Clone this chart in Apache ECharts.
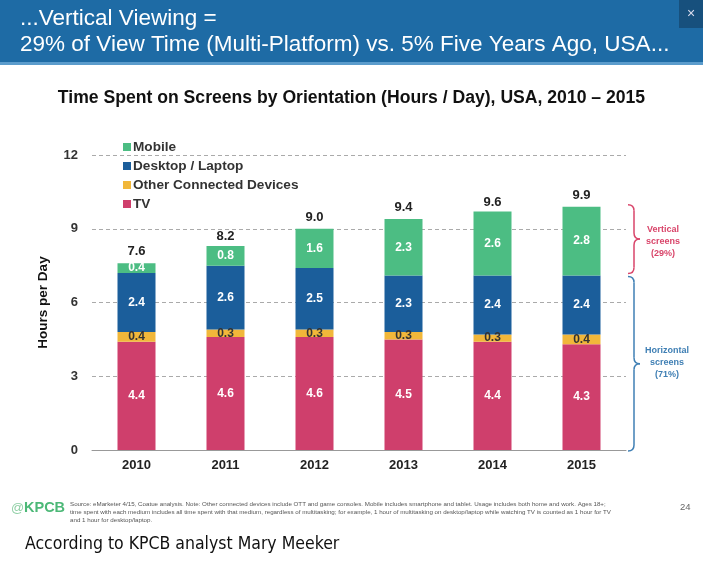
<!DOCTYPE html>
<html><head><meta charset="utf-8">
<script src="https://cdn.jsdelivr.net/npm/echarts@6/dist/echarts.min.js"></script>
<style>html,body{margin:0;padding:0;background:#fff}#c{width:703px;height:561px}</style>
</head><body><div id="c"></div>
<script>
var years = ['2010','2011','2012','2013','2014','2015'];
var tv = [4.4,4.6,4.6,4.5,4.4,4.3];
var other = [0.4,0.3,0.3,0.3,0.3,0.4];
var desktop = [2.4,2.6,2.5,2.3,2.4,2.4];
var mobile = [0.4,0.8,1.6,2.3,2.6,2.8];
var totals = [7.6,8.2,9.0,9.4,9.6,9.9];
var yTicks = [0,3,6,9,12];

var F = 'Liberation Sans, Arial, sans-serif';
var chart = echarts.init(document.getElementById('c'), null, {renderer:'canvas'});
function seg(name, data, color, labelColor){
  return {name:name, type:'bar', stack:'s', data:data, barWidth:38,
    itemStyle:{color:color},
    label:{show:true, position:'inside', color:labelColor, fontFamily:F, fontWeight:'bold', fontSize:12,
      formatter:function(p){return p.value.toFixed(1);}}};
}
var option = {
  animation:false,
  backgroundColor:'#fff',
  title:[{text:'Time Spent on Screens by Orientation (Hours / Day), USA, 2010 \u2013 2015', left:'center', top:84,
    textStyle:{fontFamily:F, fontWeight:'bold', fontSize:17.6, color:'#111'}}],
  legend:{orient:'vertical', left:118, top:135, itemWidth:8, itemHeight:8, itemGap:5, icon:'rect',
    data:['Mobile','Desktop / Laptop','Other Connected Devices','TV'],
    textStyle:{fontFamily:F, fontWeight:'bold', fontSize:13.6, color:'#333', padding:[0,0,0,-3]}},
  grid:{left:92, right:77, top:155, bottom:111},
  xAxis:{type:'category', data:years,
    axisLine:{lineStyle:{color:'#999'}}, axisTick:{show:false},
    axisLabel:{fontFamily:F, fontWeight:'bold', fontSize:13, color:'#222', margin:9}},
  yAxis:{type:'value', min:0, max:12, interval:3, name:'Hours per Day', nameLocation:'middle', nameGap:42,
    nameTextStyle:{fontFamily:F, fontWeight:'bold', fontSize:13.5, color:'#111'},
    axisLine:{show:false}, axisTick:{show:false},
    axisLabel:{fontFamily:F, fontWeight:'bold', fontSize:13, color:'#333', margin:14,
      formatter:function(v){return yTicks.indexOf(v)>=0?String(v):'';}},
    splitLine:{lineStyle:{color:'#aaa', type:[4,3], width:1}}},
  series:[
    seg('TV', tv, '#cf3f6c', '#fff'),
    seg('Other Connected Devices', other, '#f1b73a', '#333'),
    seg('Desktop / Laptop', desktop, '#1b5e9b', '#fff'),
    seg('Mobile', mobile, '#4cbd83', '#fff'),
    {name:'Total', type:'line', data:totals, symbol:'circle', symbolSize:2, lineStyle:{opacity:0},
      itemStyle:{color:'#fff', opacity:0}, silent:true, z:5,
      label:{show:true, position:'top', distance:4, color:'#222', opacity:1, fontFamily:F, fontWeight:'bold', fontSize:13,
        formatter:function(p){return p.value.toFixed(1);}}}
  ]
};
chart.setOption(option);

function brace(x, y1, y2, w, color){
  var ym = (y1+y2)/2;
  var st = {stroke:color, lineWidth:1.5, fill:null};
  return {type:'group', z:3, children:[
    {type:'bezierCurve', shape:{x1:x,y1:y1,x2:x+w,y2:y1+w,cpx1:x+w,cpy1:y1}, style:st},
    {type:'line', shape:{x1:x+w,y1:y1+w,x2:x+w,y2:ym-w}, style:st},
    {type:'bezierCurve', shape:{x1:x+w,y1:ym-w,x2:x+2*w,y2:ym,cpx1:x+w,cpy1:ym}, style:st},
    {type:'bezierCurve', shape:{x1:x+2*w,y1:ym,x2:x+w,y2:ym+w,cpx1:x+w,cpy1:ym}, style:st},
    {type:'line', shape:{x1:x+w,y1:ym+w,x2:x+w,y2:y2-w}, style:st},
    {type:'bezierCurve', shape:{x1:x+w,y1:y2-w,x2:x,y2:y2,cpx1:x+w,cpy1:y2}, style:st}
  ]};
}
var yTop = chart.convertToPixel({yAxisIndex:0}, totals[5]);
var yMid = chart.convertToPixel({yAxisIndex:0}, tv[5]+other[5]+desktop[5]);
var yBot = chart.convertToPixel({yAxisIndex:0}, 0);
var bx = 628;
var footnote = 'Source: eMarketer 4/15, Coatue analysis. Note: Other connected devices include OTT and game consoles. Mobile includes smartphone and tablet. Usage includes both home and work. Ages 18+;\ntime spent with each medium includes all time spent with that medium, regardless of multitasking; for example, 1 hour of multitasking on desktop/laptop while watching TV is counted as 1 hour for TV\nand 1 hour for desktop/laptop.';
chart.setOption({graphic:[
  {type:'rect', shape:{x:0,y:0,width:703,height:62}, style:{fill:'#1e6ba5'}, z:0},
  {type:'rect', shape:{x:0,y:62,width:703,height:3}, style:{fill:'#5b9ccc'}, z:0},
  {type:'rect', shape:{x:679,y:0,width:24,height:28}, style:{fill:'#17507d'}, z:1},
  {type:'text', x:691, y:14, style:{text:'\u00d7', fill:'#dde', fontSize:14, fontFamily:F, align:'center', verticalAlign:'middle'}, z:2},
  {type:'text', x:20, y:19, style:{text:'...Vertical Viewing =', fill:'#fff', fontSize:22.5, fontFamily:F, verticalAlign:'middle'}, z:2},
  {type:'text', x:20, y:45, style:{text:'29% of View Time (Multi-Platform) vs. 5% Five Years Ago, USA...', fill:'#fff', fontSize:22.5, fontFamily:F, verticalAlign:'middle'}, z:2},
  brace(bx, yTop-2, yMid-2, 6, '#d9456a'),
  brace(bx, yMid+1, yBot+1, 6, '#3f7fb4'),
  {type:'text', x:663, y:(yTop+yMid)/2, style:{text:'Vertical\nscreens\n(29%)', fill:'#d9456a', fontSize:9, fontWeight:'bold', fontFamily:F, align:'center', verticalAlign:'middle', lineHeight:12}, z:3},
  {type:'text', x:667, y:(yMid+yBot)/2, style:{text:'Horizontal\nscreens\n(71%)', fill:'#3f7fb4', fontSize:9, fontWeight:'bold', fontFamily:F, align:'center', verticalAlign:'middle', lineHeight:12}, z:3},
  {type:'text', x:11, y:508, style:{text:'@', fill:'#8fcfa5', fontSize:13, fontFamily:F, verticalAlign:'middle'}, z:3},
  {type:'text', x:24, y:508, style:{text:'KPCB', fill:'#4cb877', fontSize:14.5, fontWeight:'bold', fontFamily:F, verticalAlign:'middle'}, z:3},
  {type:'text', x:70, y:500, style:{text:footnote, fill:'#555', fontSize:6.2, fontFamily:F, verticalAlign:'top', lineHeight:8}, z:3},
  {type:'text', x:680, y:507, style:{text:'24', fill:'#666', fontSize:9.5, fontFamily:F, verticalAlign:'middle'}, z:3},
  {type:'text', x:25, y:544, style:{text:'According to KPCB analyst Mary Meeker', fill:'#111', fontSize:17.5, fontFamily:'DejaVu Sans Condensed, Liberation Sans Narrow, sans-serif', verticalAlign:'middle'}, z:3}
]});
</script></body></html>
